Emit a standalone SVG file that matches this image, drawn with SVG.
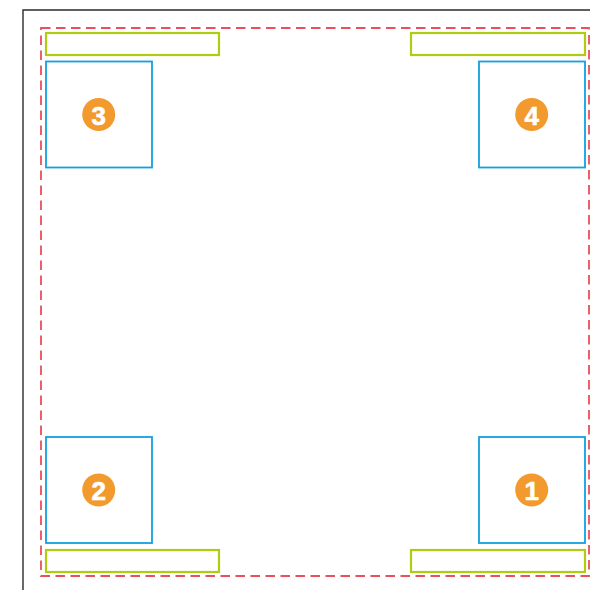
<svg xmlns="http://www.w3.org/2000/svg" width="590" height="590" viewBox="0 0 590 590">
<style>
.frame{fill:none;stroke:#2e2a28;stroke-width:1.4}
.keep{fill:none;stroke:#e8505b;stroke-width:1.8;stroke-dasharray:9.5 5.5}
.bar{fill:none;stroke:#afcb12;stroke-width:2.2}
.pad{fill:none;stroke:#12a0df;stroke-width:1.8}
.badge{fill:#f39a2e}
.num{fill:#fff;stroke:#fff;stroke-width:0.6;font-family:"Liberation Sans",Arial,sans-serif;font-weight:bold;font-size:26px;text-anchor:middle;dominant-baseline:central}
</style>
<rect width="590" height="590" fill="#fff"/>
<g id="frame"><path class="frame" d="M23,590 V10 H590"/></g>
<g id="keepout"><rect class="keep" x="41" y="28" width="548" height="548"/></g>
<g id="connectors"></g>
<g id="bar-tl"><rect class="bar" x="46" y="33" width="173" height="22"/></g>
<g id="bar-tr"><rect class="bar" x="411" y="33" width="174" height="22"/></g>
<g id="bar-bl"><rect class="bar" x="46" y="550" width="173" height="22"/></g>
<g id="bar-br"><rect class="bar" x="411" y="550" width="174" height="22"/></g>
<g id="pad3"><rect class="pad" x="46" y="61.5" width="106" height="106"/><circle class="badge" cx="98.7" cy="114.5" r="16.5"/><text class="num" x="98.7" y="115.5">3</text></g>
<g id="pad4"><rect class="pad" x="479" y="61.5" width="106" height="106"/><circle class="badge" cx="531.7" cy="114.5" r="16.5"/><text class="num" x="531.7" y="115.5">4</text></g>
<g id="pad2"><rect class="pad" x="46" y="437" width="106" height="106"/><circle class="badge" cx="98.7" cy="490" r="16.5"/><text class="num" x="98.7" y="491">2</text></g>
<g id="pad1"><rect class="pad" x="479" y="437" width="106" height="106"/><circle class="badge" cx="531.7" cy="490" r="16.5"/><text class="num" x="531.7" y="491">1</text></g>
</svg>
